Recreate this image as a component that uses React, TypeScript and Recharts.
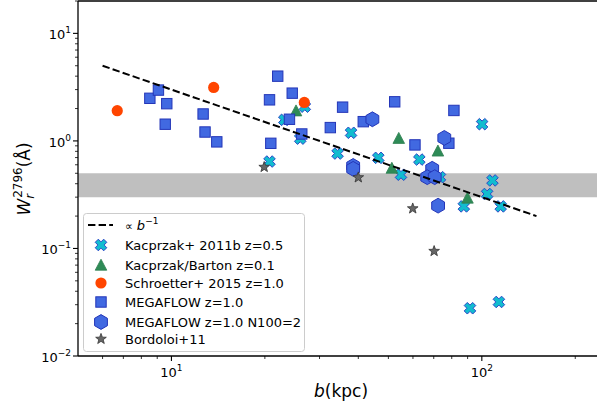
import { Legend, ReferenceArea, ReferenceLine, Scatter, ScatterChart, XAxis, YAxis } from 'recharts';

const FONT = "'DejaVu Sans', sans-serif";

// impact parameter b (kpc) vs rest equivalent width W (Å)
const kacprzak2011 = [
  { b: 26.9, w: 2.08 }, { b: 23.1, w: 1.57 }, { b: 26.0, w: 1.05 }, { b: 20.7, w: 0.643 },
  { b: 37.9, w: 1.19 }, { b: 34.3, w: 0.763 }, { b: 46.4, w: 0.696 }, { b: 54.9, w: 0.485 },
  { b: 62.9, w: 0.671 }, { b: 73.3, w: 0.46 }, { b: 100.2, w: 1.43 }, { b: 108.2, w: 0.429 },
  { b: 104, w: 0.321 }, { b: 115, w: 0.246 }, { b: 87.5, w: 0.246 }, { b: 91.6, w: 0.0278 },
  { b: 113.5, w: 0.0318 },
];
const kacprzakBarton = [
  { b: 25.2, w: 1.91 }, { b: 54.0, w: 1.06 }, { b: 51.3, w: 0.559 }, { b: 72.2, w: 0.808 },
  { b: 89.9, w: 0.295 },
];
const schroetter2015 = [
  { b: 6.69, w: 1.91 }, { b: 13.68, w: 3.14 }, { b: 26.8, w: 2.28 },
];
const megaflow = [
  { b: 8.52, w: 2.49 }, { b: 9.08, w: 2.97 }, { b: 9.66, w: 2.22 }, { b: 9.55, w: 1.43 },
  { b: 12.65, w: 1.78 }, { b: 12.83, w: 1.21 }, { b: 14.0, w: 0.98 }, { b: 22.0, w: 4.0 },
  { b: 20.7, w: 2.41 }, { b: 24.5, w: 2.78 }, { b: 24.0, w: 1.59 }, { b: 26.3, w: 1.16 },
  { b: 20.9, w: 0.95 }, { b: 35.6, w: 2.06 }, { b: 32.5, w: 1.33 }, { b: 41.5, w: 1.51 },
  { b: 52.4, w: 2.31 }, { b: 81.3, w: 1.92 }, { b: 60.9, w: 0.918 }, { b: 78.3, w: 0.952 },
];
const megaflowN2 = [
  { b: 44.4, w: 1.59 }, { b: 38.5, w: 0.585 }, { b: 38.5, w: 0.55 }, { b: 69.2, w: 0.551 },
  { b: 66.7, w: 0.46 }, { b: 70.5, w: 0.46 }, { b: 75.7, w: 1.066 }, { b: 72.3, w: 0.25 },
];
const bordoloi = [
  { b: 19.9, w: 0.571 }, { b: 40.0, w: 0.457 }, { b: 59.9, w: 0.235 }, { b: 70.2, w: 0.0944 },
];
const fitLine = [
  { b: 6, w: 5 }, { b: 150, w: 0.2 },
];
const band = [0.3, 0.5];

const X_MAJOR = [10, 100];
const X_TICKS = [6, 7, 8, 9, 10, 20, 30, 40, 50, 60, 70, 80, 90, 100, 200];
const Y_MAJOR = [0.01, 0.1, 1, 10];
const Y_TICKS = [
  0.01, 0.02, 0.03, 0.04, 0.05, 0.06, 0.07, 0.08, 0.09,
  0.1, 0.2, 0.3, 0.4, 0.5, 0.6, 0.7, 0.8, 0.9,
  1, 2, 3, 4, 5, 6, 7, 8, 9, 10, 20,
];

const exponent = (v: number) => {
  const e = Math.round(Math.log10(v));
  return e < 0 ? `\u2212${-e}` : String(e);
};

function XTick({ x, y, payload }: any) {
  const major = X_MAJOR.includes(payload.value);
  return (
    <g>
      <line x1={x} x2={x} y1={y} y2={y + (major ? 5 : 3)} stroke="#000" strokeWidth={major ? 1.1 : 0.8} />
      {major && (
        <text x={x} y={y + 21} textAnchor="middle" fontSize={13} fontFamily={FONT} fill="#000">
          10<tspan dy={-6} fontSize={9}>{exponent(payload.value)}</tspan>
        </text>
      )}
    </g>
  );
}

function YTick({ x, y, payload }: any) {
  const major = Y_MAJOR.includes(payload.value);
  return (
    <g>
      <line x1={x} x2={x - (major ? 5 : 3)} y1={y} y2={y} stroke="#000" strokeWidth={major ? 1.1 : 0.8} />
      {major && (
        <text x={x - 7} y={y + 6} textAnchor="end" fontSize={13} fontFamily={FONT} fill="#000">
          10<tspan dy={-6} fontSize={9}>{exponent(payload.value)}</tspan>
        </text>
      )}
    </g>
  );
}

const XMark = ({ cx, cy }: any) => {
  const R = 6;
  const t = 2.2;
  const pts = [[-t, R], [t, R], [t, t], [R, t], [R, -t], [t, -t], [t, -R], [-t, -R], [-t, -t], [-R, -t], [-R, t], [-t, t]];
  const c = Math.SQRT1_2;
  const d = pts.map(([px, py], i) => `${i ? 'L' : 'M'}${cx + (px - py) * c},${cy + (px + py) * c}`).join('') + 'Z';
  return <path d={d} fill="#12bccf" stroke="#2b48c8" strokeWidth={1} />;
};

const Triangle = ({ cx, cy }: any) => (
  <path d={`M${cx},${cy - 5.8}L${cx + 5.8},${cy + 5.2}L${cx - 5.8},${cy + 5.2}Z`} fill="#2e8b57" stroke="#2f7f50" strokeWidth={0.8} />
);

const Dot = ({ cx, cy }: any) => <circle cx={cx} cy={cy} r={5.6} fill="#ff4500" />;

const Square = ({ cx, cy }: any) => (
  <rect x={cx - 5.2} y={cy - 5.2} width={10.4} height={10.4} fill="#4169e1" stroke="#2436b8" strokeWidth={1} />
);

const Hexagon = ({ cx, cy }: any) => {
  const r = 7.4;
  const d = [0, 1, 2, 3, 4, 5]
    .map((k) => {
      const a = (Math.PI / 180) * (-90 + 60 * k);
      return `${k ? 'L' : 'M'}${cx + r * Math.cos(a)},${cy + r * Math.sin(a)}`;
    })
    .join('') + 'Z';
  return <path d={d} fill="#4169e1" stroke="#2436b8" strokeWidth={1} />;
};

const Star = ({ cx, cy }: any) => {
  const d = Array.from({ length: 10 })
    .map((_, k) => {
      const r = k % 2 ? 2.3 : 5.6;
      const a = (Math.PI / 180) * (-90 + 36 * k);
      return `${k ? 'L' : 'M'}${cx + r * Math.cos(a)},${cy + r * Math.sin(a)}`;
    })
    .join('') + 'Z';
  return <path d={d} fill="#666" stroke="#333" strokeWidth={0.8} />;
};

const Nothing = () => <g />;

const LEGEND_ROWS = [
  { label: 'Kacprzak+ 2011b z=0.5', Mark: XMark, y: 32 },
  { label: 'Kacprzak/Barton z=0.1', Mark: Triangle, y: 52 },
  { label: 'Schroetter+ 2015 z=1.0', Mark: Dot, y: 70 },
  { label: 'MEGAFLOW z=1.0', Mark: Square, y: 89 },
  { label: 'MEGAFLOW z=1.0 N100=2', Mark: Hexagon, y: 109 },
  { label: 'Bordoloi+11', Mark: Star, y: 126 },
];

function LegendBox() {
  return (
    <svg width={222} height={139} style={{ display: 'block' }}>
      <rect x={0.5} y={0.5} width={221} height={138} rx={3} fill="rgba(255,255,255,0.8)" stroke="#cccccc" />
      <line x1={5} x2={30} y1={12} y2={12} stroke="#000" strokeWidth={2} strokeDasharray="7.4 3.2" />
      <text x={42} y={16.5} fontSize={13} fontFamily={FONT} fill="#000">
        <tspan fontSize={11}>{'\u221d'}</tspan>
        <tspan dx={4} fontStyle="italic">b</tspan>
        <tspan dy={-6} fontSize={9}>{'\u22121'}</tspan>
      </text>
      {LEGEND_ROWS.map(({ label, Mark, y }) => (
        <g key={label}>
          <Mark cx={18} cy={y} />
          <text x={42} y={y + 4.5} fontSize={13} fontFamily={FONT} fill="#000">{label}</text>
        </g>
      ))}
    </svg>
  );
}

const YLabel = () => (
  <text transform="translate(30,179) rotate(-90)" textAnchor="middle" fontFamily={FONT} fontSize={17} fill="#000">
    <tspan fontStyle="italic">W</tspan>
    <tspan fontSize={12} fontStyle="italic" dy={4}>r</tspan>
    <tspan fontSize={12} dx={-4} dy={-12}>2796</tspan>
    <tspan dy={8}>(Å)</tspan>
  </text>
);

const XLabel = () => (
  <text x={341} y={397} textAnchor="middle" fontFamily={FONT} fontSize={17} fill="#000">
    <tspan fontStyle="italic">b</tspan>(kpc)
  </text>
);

export default function App() {
  return (
    <div style={{ position: 'absolute', left: 0, top: 0, background: '#fff' }}>
      <ScatterChart width={597} height={405} margin={{ top: 1, right: 0, bottom: 0, left: 0 }}>
        <XAxis
          type="number"
          dataKey="b"
          scale="log"
          domain={[5, 235]}
          allowDataOverflow
          ticks={X_TICKS}
          interval={0}
          tick={<XTick />}
          tickLine={false}
          tickSize={0}
          tickMargin={0}
          height={49}
          axisLine={{ stroke: '#000', strokeWidth: 1.3 }}
          label={{ content: () => <XLabel /> }}
        />
        <YAxis
          type="number"
          dataKey="w"
          scale="log"
          domain={[0.01, 20]}
          allowDataOverflow
          ticks={Y_TICKS}
          interval={0}
          tick={<YTick />}
          tickLine={false}
          tickSize={0}
          tickMargin={0}
          width={78}
          axisLine={{ stroke: '#000', strokeWidth: 1.3 }}
          label={{ content: () => <YLabel /> }}
        />
        <ReferenceArea y1={band[0]} y2={band[1]} fill="#bfbfbf" fillOpacity={1} stroke="none" />
        <ReferenceLine y={20} stroke="#000" strokeWidth={1.3} />
        <Scatter data={kacprzak2011} shape={XMark} isAnimationActive={false} />
        <Scatter data={kacprzakBarton} shape={Triangle} isAnimationActive={false} />
        <Scatter data={schroetter2015} shape={Dot} isAnimationActive={false} />
        <Scatter data={megaflow} shape={Square} isAnimationActive={false} />
        <Scatter data={megaflowN2} shape={Hexagon} isAnimationActive={false} />
        <Scatter data={bordoloi} shape={Star} isAnimationActive={false} />
        <Scatter
          data={fitLine}
          shape={Nothing}
          line={{ stroke: '#000', strokeWidth: 2, strokeDasharray: '7.4 3.2' }}
          isAnimationActive={false}
        />
        <Legend
          layout="vertical"
          align="center"
          verticalAlign="middle"
          wrapperStyle={{ left: 83, top: 213, width: 222, height: 139 }}
          content={() => <LegendBox />}
        />
      </ScatterChart>
    </div>
  );
}
